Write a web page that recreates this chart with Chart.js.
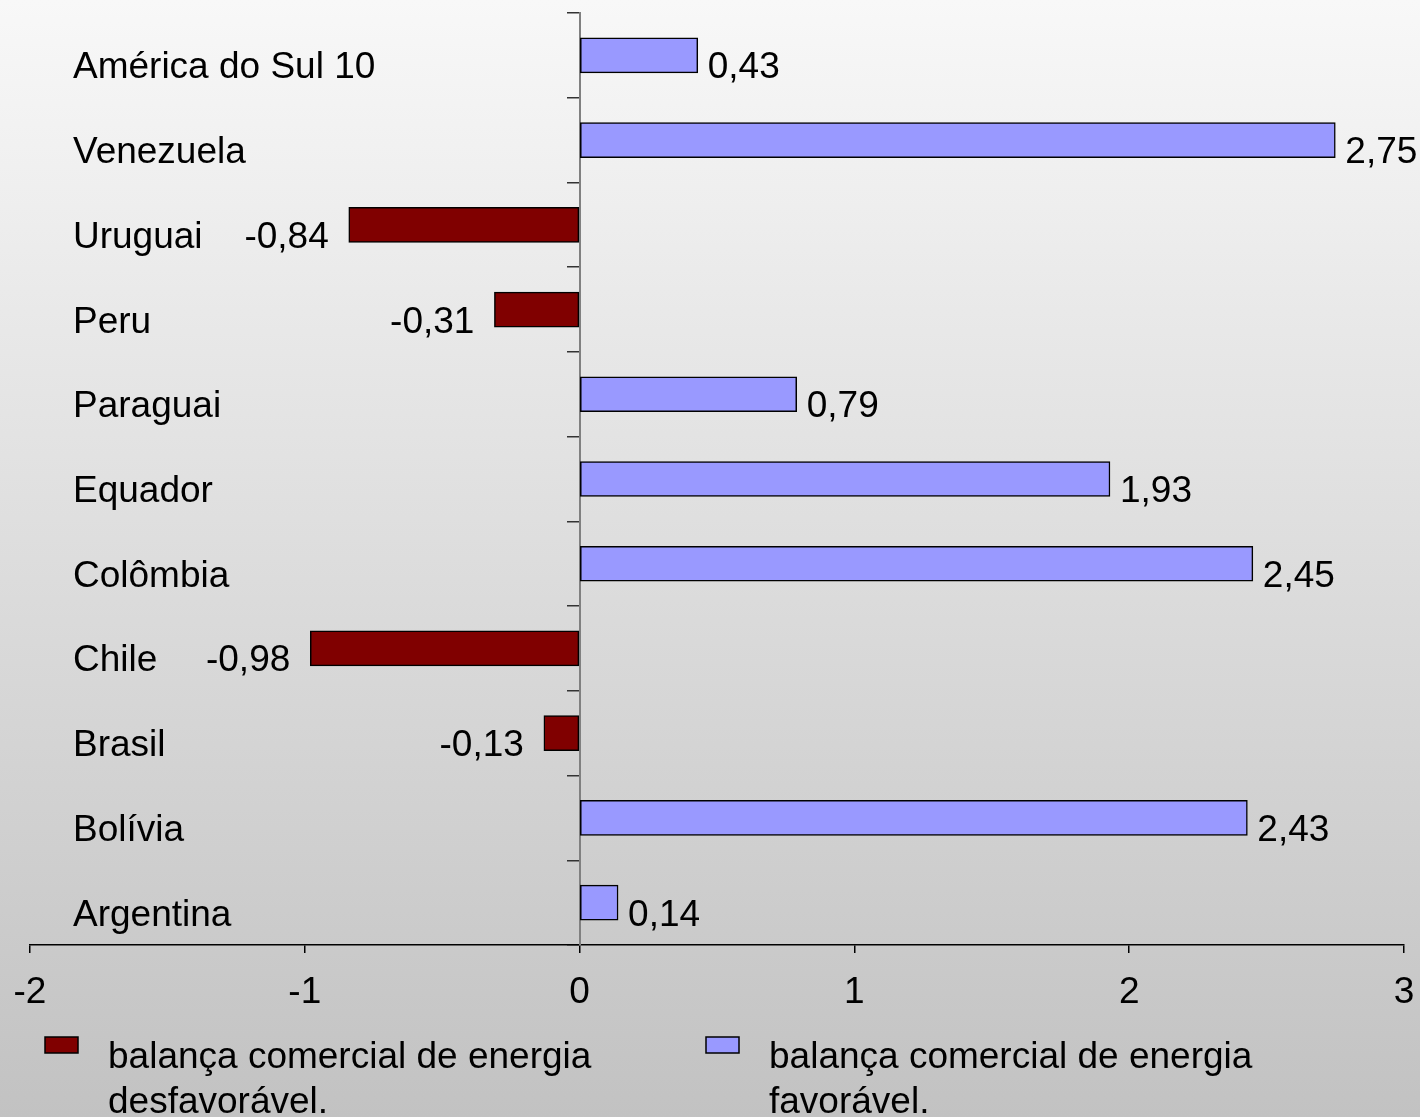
<!DOCTYPE html>
<html><head><meta charset="utf-8">
<script src="https://cdn.jsdelivr.net/npm/chart.js@4"></script>
<style>
html,body{margin:0;padding:0;}
body{width:1420px;height:1117px;background:linear-gradient(to bottom,#f8f8f8 0%,#c2c2c2 100%);overflow:hidden;}
canvas{display:block;}
</style></head><body>
<canvas id="c" width="1420" height="1117"></canvas>
<script>
const categories = ['América do Sul 10','Venezuela','Uruguai','Peru','Paraguai','Equador','Colômbia','Chile','Brasil','Bolívia','Argentina'];
const unfavourable = [null,null,-0.84,-0.31,null,null,null,-0.98,-0.13,null,null];
const favourable = [0.43,2.75,null,null,0.79,1.93,2.45,null,null,2.43,0.14];
const xTickValues = [-2,-1,0,1,2,3];
const seriesNames = [['balança comercial de energia','desfavorável.'],['balança comercial de energia','favorável.']];

const FONT = "'Liberation Sans', Arial, sans-serif";
const fmt = v => v.toFixed(2).replace('.', ',');

const labelPlugin = {
  id: 'labels',
  afterDatasetsDraw(chart) {
    const ctx = chart.ctx;
    const yScale = chart.scales.y;
    ctx.save();
    ctx.font = '37px ' + FONT;
    ctx.fillStyle = '#000';
    ctx.textBaseline = 'alphabetic';
    ctx.textAlign = 'left';
    categories.forEach((c, i) => {
      ctx.fillText(c, 73, yScale.getPixelForValue(i) + 23);
    });
    chart.data.datasets.forEach((ds, di) => {
      const meta = chart.getDatasetMeta(di);
      meta.data.forEach((el, i) => {
        const v = ds.data[i];
        if (v === null || v === undefined) return;
        if (v >= 0) {
          ctx.textAlign = 'left';
          ctx.fillText(fmt(v), el.x + 10, el.y + 23);
        } else {
          ctx.textAlign = 'right';
          ctx.fillText(fmt(v), el.x - 20, el.y + 23);
        }
      });
    });
    const legendX = [45, 706];
    chart.data.datasets.forEach((ds, di) => {
      const x = legendX[di];
      ctx.fillStyle = ds.backgroundColor;
      ctx.fillRect(x, 1037, 33, 16);
      ctx.strokeStyle = '#000';
      ctx.lineWidth = 1.5;
      ctx.strokeRect(x, 1037, 33, 16);
      ctx.fillStyle = '#000';
      ctx.textAlign = 'left';
      seriesNames[di].forEach((line, li) => {
        ctx.fillText(line, x + 63, 1068 + li * 45);
      });
    });
    ctx.restore();
  }
};

new Chart(document.getElementById('c'), {
  type: 'bar',
  data: {
    labels: categories,
    datasets: [
      { label: seriesNames[0].join(' '), data: unfavourable, backgroundColor: '#800000', borderColor: '#000', borderWidth: 1.5, borderSkipped: false, grouped: false, barThickness: 35 },
      { label: seriesNames[1].join(' '), data: favourable, backgroundColor: '#9999ff', borderColor: '#000', borderWidth: 1.5, borderSkipped: false, grouped: false, barThickness: 35 }
    ]
  },
  options: {
    indexAxis: 'y',
    responsive: false,
    animation: false,
    layout: { padding: { left: 30, right: 16, top: 13, bottom: 112 } },
    plugins: { legend: { display: false }, tooltip: { enabled: false } },
    scales: {
      x: {
        type: 'linear',
        min: -2, max: 3,
        afterBuildTicks: s => { s.ticks = xTickValues.map(v => ({ value: v })); },
        afterFit: s => { s.height = 60; s.paddingLeft = 0; s.paddingRight = 0; },
        grid: { drawOnChartArea: false, drawTicks: true, tickLength: 8, color: '#000', lineWidth: 1.5 },
        border: { color: '#000', width: 1.5 },
        ticks: { color: '#000', font: { family: FONT, size: 37 }, padding: 18, callback: v => String(v), maxRotation: 0, autoSkip: false }
      },
      y: {
        type: 'category',
        axis: 'y',
        position: { x: 0 },
        offset: true,
        grid: { offset: true, drawOnChartArea: false, drawTicks: true, tickLength: 12, color: '#333', lineWidth: 1.5 },
        border: { color: '#808080', width: 2 },
        ticks: { display: false }
      }
    }
  },
  plugins: [labelPlugin]
});
</script>
</body></html>
